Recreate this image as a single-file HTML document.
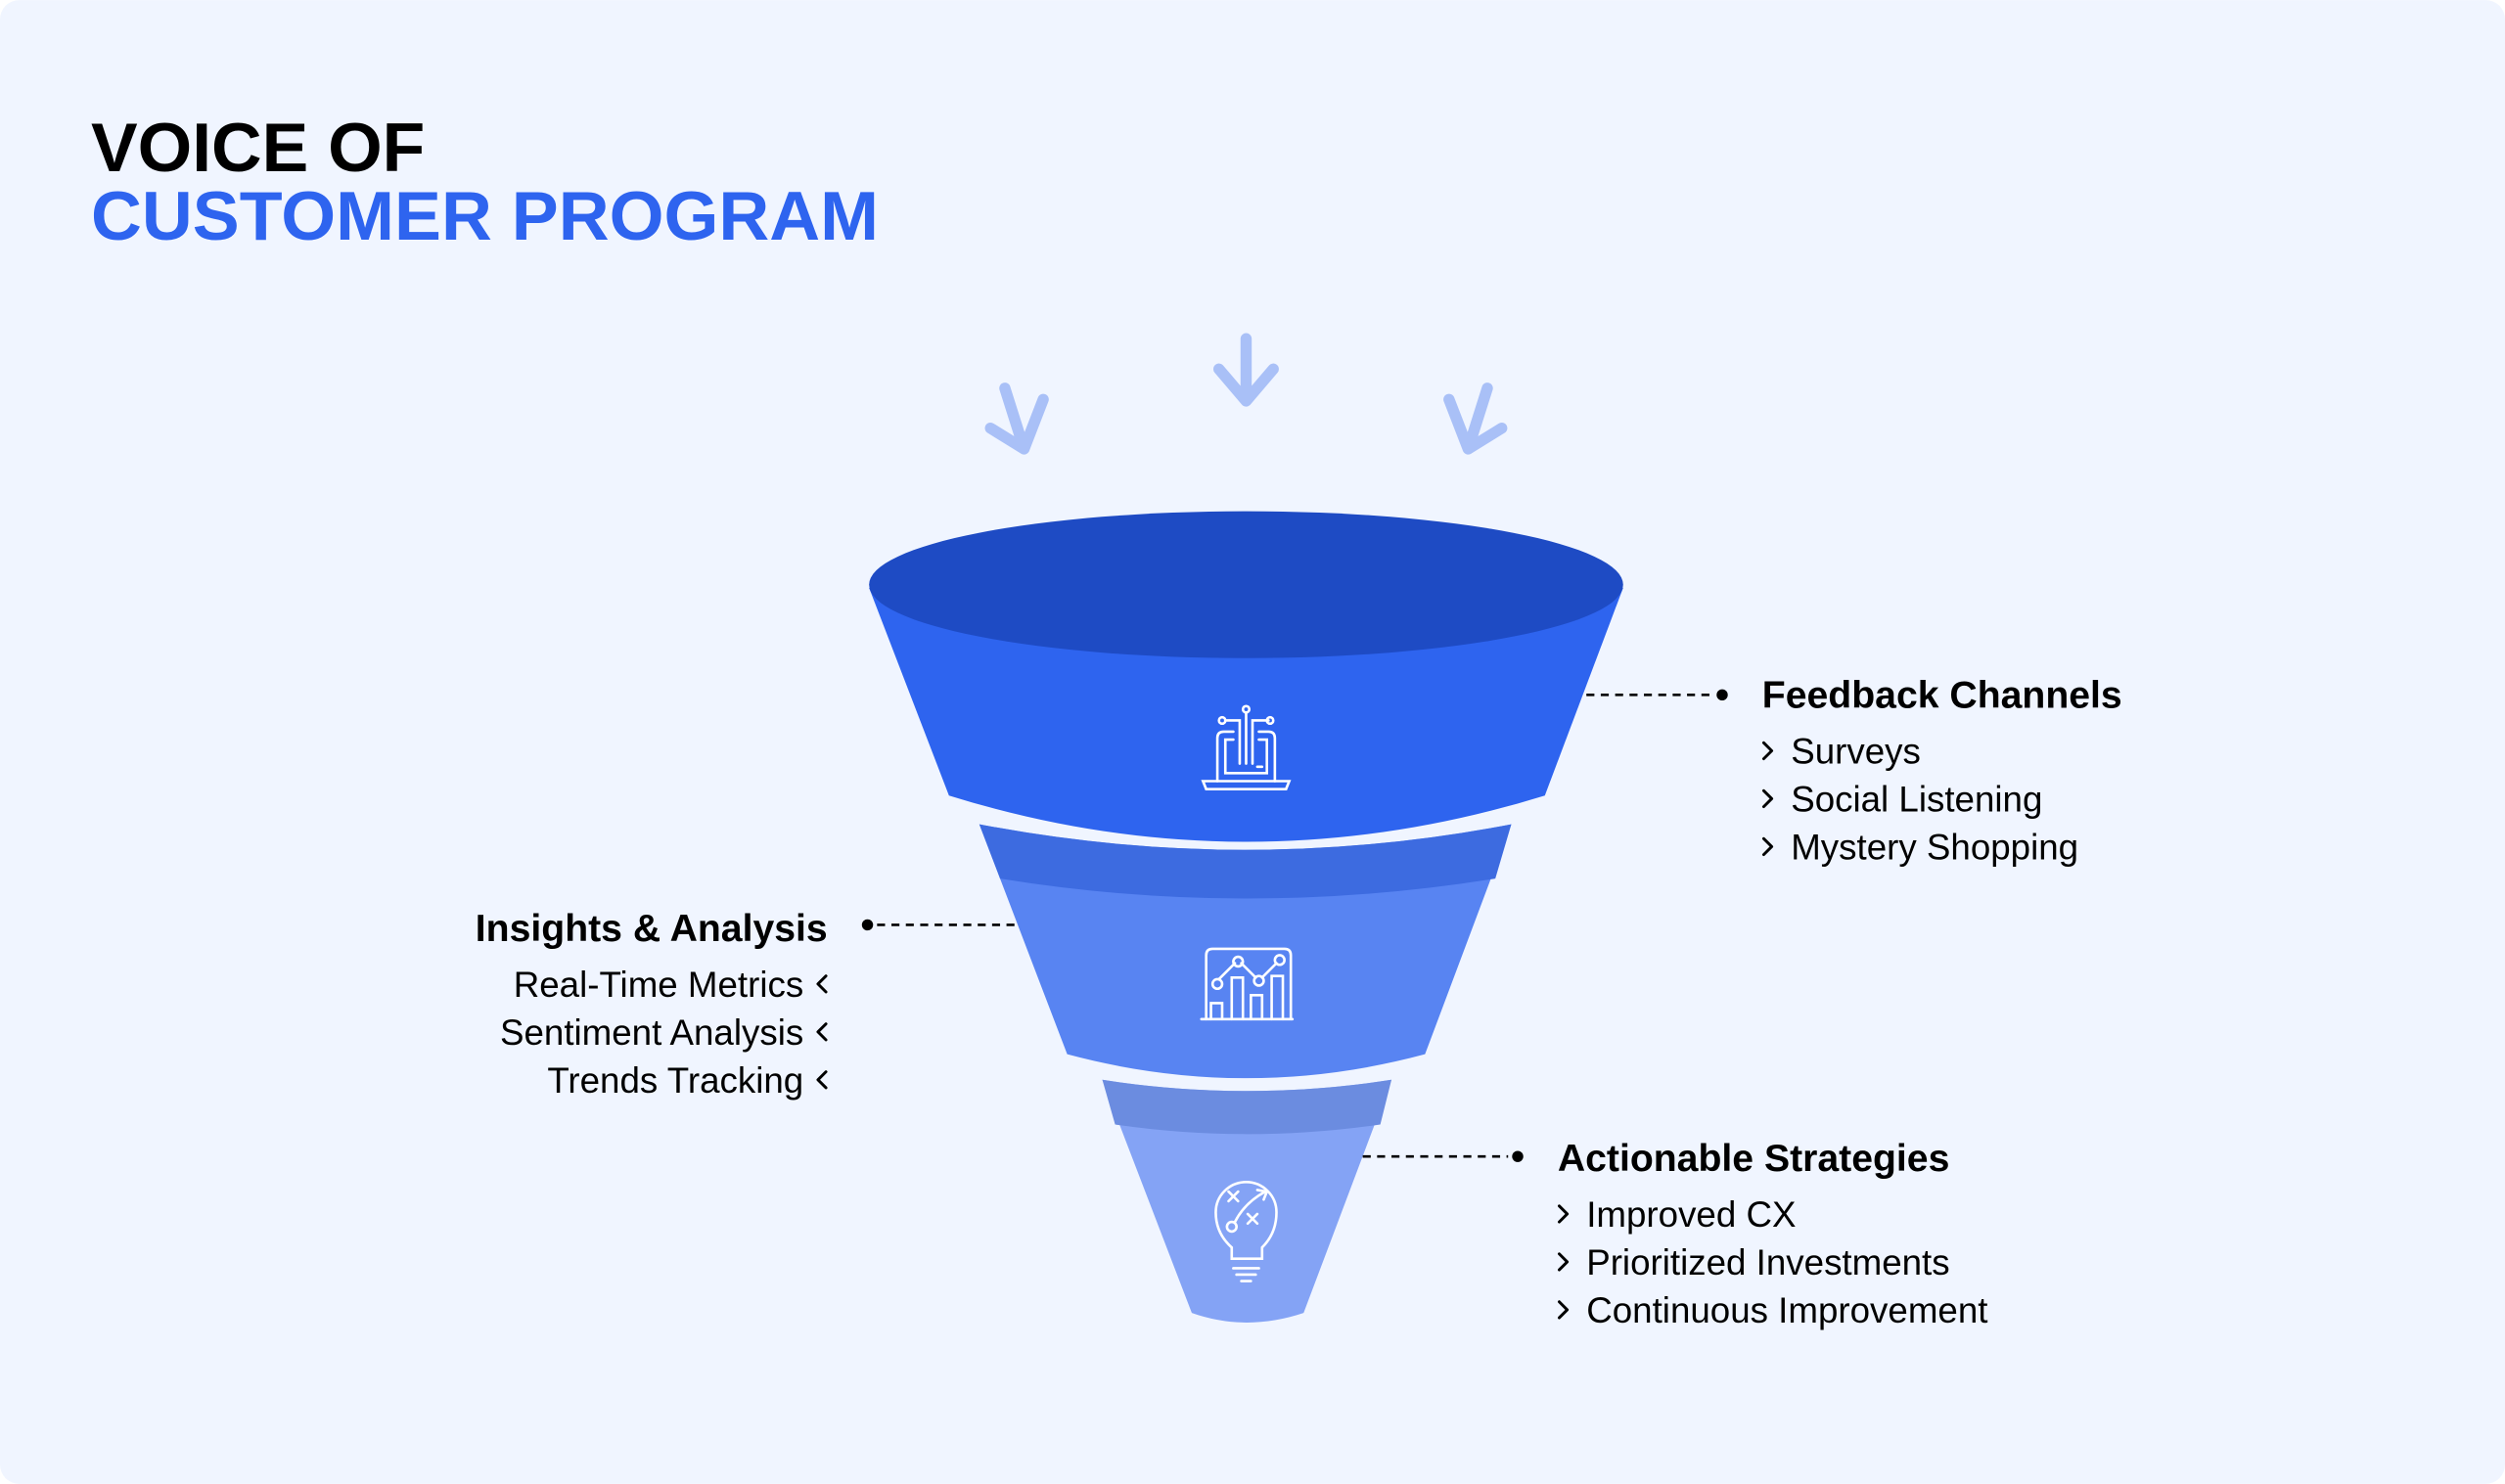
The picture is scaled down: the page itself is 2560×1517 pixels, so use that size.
<!DOCTYPE html>
<html><head><meta charset="utf-8"><style>
html,body{margin:0;padding:0;background:#ffffff;}
svg{display:block;}
text{font-family:"Liberation Sans",sans-serif;}
</style></head><body>
<svg width="2560" height="1517" viewBox="0 0 1568 929" xmlns="http://www.w3.org/2000/svg">
<rect width="1568" height="929" rx="12" fill="#f0f5ff"/>
<text x="57" y="107" font-size="43" font-weight="bold" fill="#000" textLength="209" lengthAdjust="spacingAndGlyphs">VOICE OF</text>
<text x="57" y="150" font-size="43" font-weight="bold" fill="#2e64ef" textLength="493" lengthAdjust="spacingAndGlyphs">CUSTOMER PROGRAM</text>

<!-- arrows -->
<g stroke="#a9c0f7" stroke-width="7" stroke-linecap="round" stroke-linejoin="round" fill="none">
<path d="M780 212 L780 250 M763 231 L780 251 L797 231"/>
<path d="M629 243 L641 281 M620 268 L641 281 L653 250"/>
<path d="M931 243 L919 281 M940 268 L919 281 L907 250"/>
</g>

<!-- segment 3 -->
<path d="M690 676 Q780 690 871 676 L816 822 Q780 834 746 822 Z" fill="#84a3f5"/>
<path d="M690 676 Q780 690 871 676 L864 704 Q780 716 698 704 Z" fill="#6b8ce0"/>
<!-- segment 2 -->
<path d="M613 516 Q780 548 946 516 L892 660 Q780 690 668 660 Z" fill="#5884f2"/>
<path d="M613 516 Q780 548 946 516 L936 550 Q780 575 626 550 Z" fill="#3d6be0"/>
<!-- segment 1 -->
<path d="M544 368 L1016 368 L967 498 Q780 556 594 498 Z" fill="#2e64ef"/>
<ellipse cx="780" cy="366" rx="236" ry="46" fill="#1e4bc4"/>

<!-- icons -->
<g stroke="#fff" stroke-width="1.6" fill="none" stroke-linecap="round">
<path d="M762 489 L762 462 Q762 458 766 458 L772 458 M788 458 L794 458 Q798 458 798 462 L798 489"/>
<path d="M772 463 L767 463 L767 484 L793 484 L793 463 L788 463"/>
<path d="M776 478 L776 451 L767 451 M784 478 L784 451 L794 451 M780 478 L780 446"/>
<circle cx="765" cy="451" r="2"/><circle cx="795" cy="451" r="2"/><circle cx="780" cy="444" r="2"/>
<path d="M753 489 L807 489 L805 494 L755 494 Z"/>
<path d="M787 480 L790 480"/>
<path d="M755 638 L755 598 Q755 594 759 594 L804 594 Q808 594 808 598 L808 638"/>
<path d="M752 638 L809 638"/>
<path d="M758 638 L758 628 L765 628 L765 638 M771 638 L771 612 L778 612 L778 638 M783 638 L783 623 L790 623 L790 638 M796 638 L796 611 L803 611 L803 638"/>
<path d="M763 613 L773 603 M777 603 L786 612 M790 612 L799 603"/>
<circle cx="762" cy="616" r="3"/><circle cx="775" cy="602" r="3"/><circle cx="788" cy="614" r="3"/><circle cx="801" cy="601" r="3"/>
<path d="M771 788 L771 781 Q761 772 761 759 A19 19 0 0 1 799 759 Q799 772 790 781 L790 788 Z"/>
<path d="M772 794 L788 794 M774 798 L786 798 M777 802 L783 802"/>
<path d="M773 765 Q779 753 792 746 M787 745 L793 746 L791 751"/>
<circle cx="771" cy="768" r="3"/>
<path d="M769 746 L775 752 M775 746 L769 752 M781 760 L787 766 M787 760 L781 766"/>
</g>

<!-- connectors -->
<g stroke="#000" stroke-width="1.6" stroke-dasharray="5 4">
<line x1="993" y1="435" x2="1073" y2="435"/>
<line x1="549" y1="579" x2="638" y2="579"/>
<line x1="853" y1="724" x2="944" y2="724"/>
</g>
<circle cx="1078" cy="435" r="3.5" fill="#000"/>
<circle cx="543" cy="579" r="3.5" fill="#000"/>
<circle cx="950" cy="724" r="3.5" fill="#000"/>

<g fill="#000">
<text x="1103" y="443" font-size="24" font-weight="bold">Feedback Channels</text>
<text x="1121" y="478" font-size="22.5">Surveys</text>
<text x="1121" y="508" font-size="22.5">Social Listening</text>
<text x="1121" y="538" font-size="22.5">Mystery Shopping</text>

<text x="518" y="589" font-size="24" font-weight="bold" text-anchor="end">Insights &amp; Analysis</text>
<text x="503" y="624" font-size="22.5" text-anchor="end">Real-Time Metrics</text>
<text x="503" y="654" font-size="22.5" text-anchor="end">Sentiment Analysis</text>
<text x="503" y="684" font-size="22.5" text-anchor="end">Trends Tracking</text>

<text x="975" y="733" font-size="24" font-weight="bold">Actionable Strategies</text>
<text x="993" y="768" font-size="22.5">Improved CX</text>
<text x="993" y="798" font-size="22.5">Prioritized Investments</text>
<text x="993" y="828" font-size="22.5">Continuous Improvement</text>
</g>
<g stroke="#000" stroke-width="1.8" fill="none" stroke-linecap="round" stroke-linejoin="round">
<path d="M1104 465 L1109 470 L1104 475 M1104 495 L1109 500 L1104 505 M1104 525 L1109 530 L1104 535"/>
<path d="M517 611 L512 616 L517 621 M517 641 L512 646 L517 651 M517 671 L512 676 L517 681"/>
<path d="M976 755 L981 760 L976 765 M976 785 L981 790 L976 795 M976 815 L981 820 L976 825"/>
</g>
</svg>
</body></html>
